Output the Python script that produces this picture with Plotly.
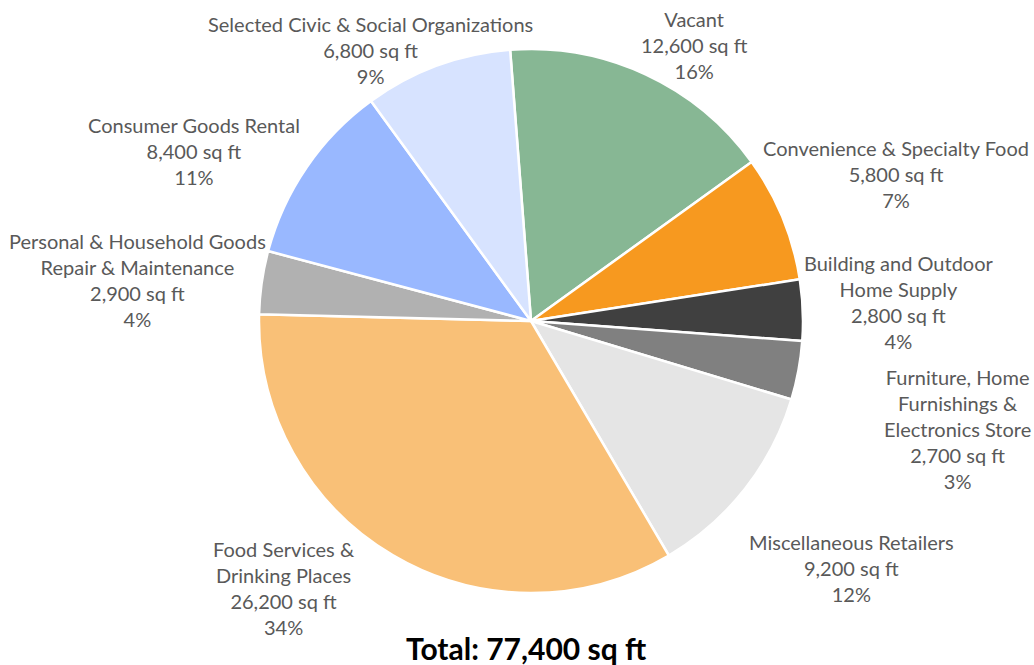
import plotly.graph_objects as go

categories = [
    "Vacant",
    "Convenience & Specialty Food",
    "Building and Outdoor<br>Home Supply",
    "Furniture, Home<br>Furnishings &<br>Electronics Store",
    "Miscellaneous Retailers",
    "Food Services &<br>Drinking Places",
    "Personal & Household Goods<br>Repair & Maintenance",
    "Consumer Goods Rental",
    "Selected Civic & Social Organizations",
]
sq_ft = [12600, 5800, 2800, 2700, 9200, 26200, 2900, 8400, 6800]
colors = ["#87B794", "#F7991F", "#404040", "#808080", "#E5E5E5",
          "#F9C077", "#B1B1B1", "#99B8FF", "#D7E3FF"]

# label block centres in pixels (layout only)
label_px = [(694, 45), (896, 174), (899, 302), (957, 429), (851, 568),
            (284, 588), (137, 280), (194, 151), (370, 50)]

W, H = 1034, 665
cx, cy, r = 531, 321, 272

total = sum(sq_ft)

fig = go.Figure(go.Pie(
    labels=[c.replace("<br>", " ") for c in categories],
    values=sq_ft,
    sort=False,
    direction="clockwise",
    rotation=-4.4,
    marker=dict(colors=colors, line=dict(color="white", width=2.5)),
    textinfo="none",
    hoverinfo="label+value+percent",
    showlegend=False,
    domain=dict(x=[(cx - r) / W, (cx + r) / W],
                y=[(H - cy - r) / H, (H - cy + r) / H]),
))

annotations = []
for name, v, (px, py) in zip(categories, sq_ft, label_px):
    pct = round(v / total * 100)
    annotations.append(dict(
        text=f"{name}<br>{v:,} sq ft<br>{pct}%",
        x=px / W, y=1 - py / H, xref="paper", yref="paper",
        xanchor="center", yanchor="middle", showarrow=False,
        align="center",
        font=dict(family="Lato", size=20, color="#595959"),
    ))
annotations.append(dict(
    text=f"<b>Total: {total:,} sq ft</b>",
    x=526 / W, y=1 - 648 / H, xref="paper", yref="paper",
    xanchor="center", yanchor="middle", showarrow=False,
    font=dict(family="Lato", size=30, color="#000000"),
))

fig.update_layout(
    width=W, height=H,
    margin=dict(l=0, r=0, t=0, b=0),
    paper_bgcolor="white", plot_bgcolor="white",
    annotations=annotations,
)

fig.write_html("out.html")
